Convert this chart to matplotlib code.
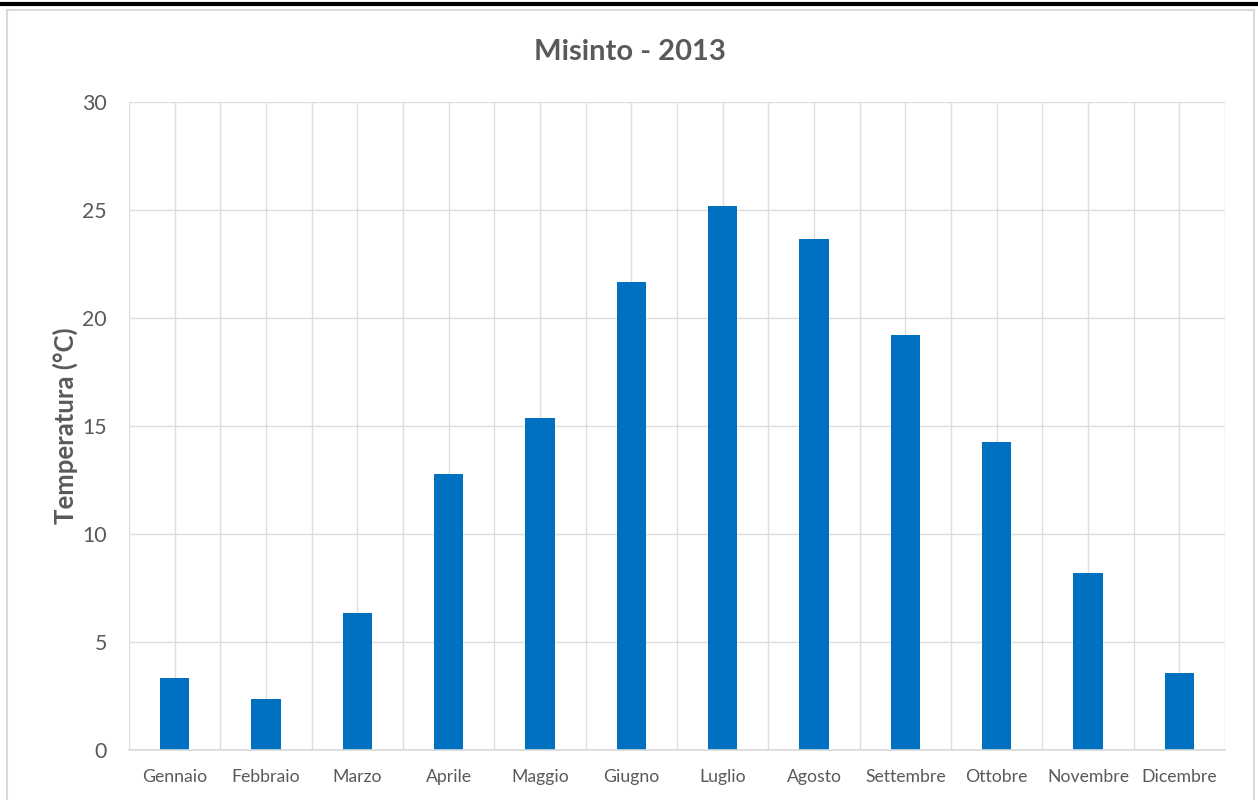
import matplotlib.pyplot as plt
from matplotlib.lines import Line2D
from matplotlib.patches import Rectangle
from matplotlib.ticker import MultipleLocator

plt.rcParams['font.family'] = ['Lato', 'DejaVu Sans']

months = ["Gennaio", "Febbraio", "Marzo", "Aprile", "Maggio", "Giugno",
          "Luglio", "Agosto", "Settembre", "Ottobre", "Novembre", "Dicembre"]
temps = [3.35, 2.38, 6.33, 12.76, 15.39, 21.66, 25.2, 23.68, 19.23, 14.26, 8.2, 3.58]

y_ticks = [0, 5, 10, 15, 20, 25, 30]

text_col = "#595959"
grid_col = "#DDDDDD"
bar_col = "#0070C0"

W, H = 1258, 800
fig = plt.figure(figsize=(W / 100, H / 100), dpi=100)
ax = fig.add_axes([129 / W, 1 - 750 / H, (1225 - 129) / W, (750 - 102) / H])

x = list(range(len(months)))
ax.bar(x, temps, width=0.32, color=bar_col, zorder=3)

ax.set_xlim(-0.5, len(months) - 0.5)
ax.set_ylim(0, 30)
ax.set_yticks(y_ticks)
ax.set_xticks(x)
ax.set_xticklabels(months)
ax.xaxis.set_minor_locator(MultipleLocator(0.5))

ax.grid(True, which='both', axis='x', color=grid_col, lw=1, zorder=0)
ax.grid(True, which='major', axis='y', color=grid_col, lw=1, zorder=0)
ax.tick_params(axis='both', which='both', length=0)
ax.tick_params(axis='x', labelsize=12.7, labelcolor=text_col, pad=14)
ax.tick_params(axis='y', labelsize=15.3, labelcolor=text_col, pad=16)

for s in ['top', 'right', 'left']:
    ax.spines[s].set_visible(False)
ax.spines['bottom'].set_color("#D9D9D9")
ax.spines['bottom'].set_linewidth(1.2)
ax.spines['bottom'].set_zorder(4)

ax.set_ylabel("Temperatura (°C)", fontsize=18.5, fontweight='bold', color=text_col, labelpad=3)
fig.text(630 / W, 1 - 52 / H, "Misinto - 2013", ha='center', va='center',
         fontsize=21, fontweight='bold', color=text_col)

# chart frame and top rule
fig.add_artist(Rectangle((7 / W, -0.01), (1254 - 7) / W, 1 - 10 / H + 0.01,
                         transform=fig.transFigure, fill=False, ec="#D9D9D9", lw=1.5))
fig.add_artist(Line2D([0, 1], [1 - 4 / H, 1 - 4 / H], transform=fig.transFigure,
                      color='black', lw=3))

fig.savefig("out.png", dpi=100)
